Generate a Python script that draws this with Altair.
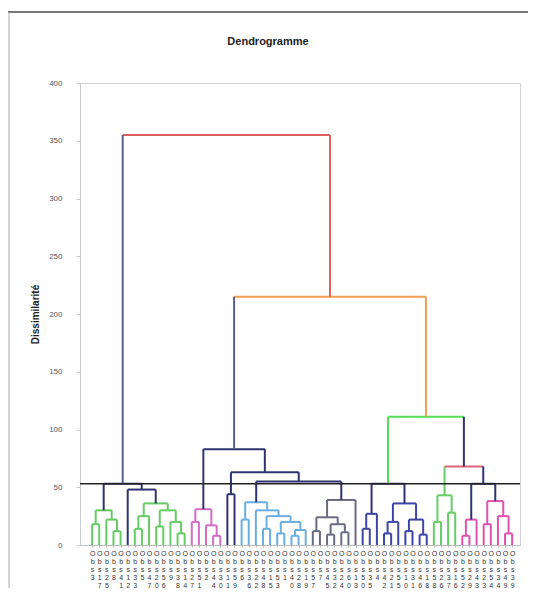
import altair as alt
import pandas as pd

# ---------------- data ----------------
chart_title = ["Dendrogramme"]

leaf_names = ["Obs3","Obs17","Obs25","Obs8","Obs41","Obs12","Obs33","Obs5","Obs47","Obs20",
              "Obs56","Obs9","Obs38","Obs14","Obs27","Obs51","Obs2","Obs44","Obs30","Obs11",
              "Obs59","Obs6","Obs36","Obs22","Obs48","Obs15","Obs53","Obs1","Obs40","Obs28",
              "Obs19","Obs57","Obs7","Obs45","Obs32","Obs24","Obs60","Obs13","Obs50","Obs35",
              "Obs4","Obs42","Obs21","Obs55","Obs10","Obs31","Obs46","Obs18","Obs58","Obs26",
              "Obs37","Obs16","Obs52","Obs29","Obs43","Obs23","Obs54","Obs34","Obs49","Obs39"]

GREEN = "#66cc66"
PINK = "#d36cc3"
NAVY = "#2f3470"
LBLUE = "#6aaee0"
GRAY = "#6b6b80"
BLUE = "#3d45a6"
MAG = "#e050ae"
ROSE = "#e0607a"
LGREEN = "#55dd55"
ORANGE = "#f2a050"
RED = "#e06060"
SLATE = "#5b5f99"

# merge table: node name, left child, right child, height, colour
# (an int child is a leaf position, a str child is an earlier merge)
node_names = ["a1","a2","a3","A1","a4","A2b1","a5","a6","a7","A2b2","A2b","A2","A",
              "p1","p2","p3","P1","DB",
              "l1","l2","l3","l4","l5","l6","l7","l8","LB",
              "g1","g2","g3","g4","g5","G","Q","P","M",
              "n1","N1a","n2","n3","n4","n5","n6","N1b","N1",
              "r1","r2","GRN","m1","Ma","m2","m3","m4","Mb","MAG","GR2","N","R","root"]
left_child = [0,3,2,"a1",6,"a4",9,12,11,"a5","A2b1",5,"A1",
              14,17,16,"p1",19,
              21,24,26,28,"l4","l3","l2",23,"l1",
              31,33,35,"g2","g1","g5","LB","DB","P1",
              38,"n1",41,"n2",44,46,"n4","n3","N1a",
              48,50,"r1",52,"m1",55,58,57,"m2","Ma","GRN","N1","M","A"]
right_child = [1,4,"a2","a3",7,8,10,13,"a6","a7","A2b2","A2b","A2",
               15,18,"p2","p3",20,
               22,25,27,29,30,"l5","l6","l7","l8",
               32,34,36,"g3","g4",37,"G","Q","P",
               39,40,42,43,45,47,"n5","n6","N1b",
               49,51,"r2",53,54,56,59,"m3","m4","Mb","MAG","GR2","N","R"]
merge_height = [18,12,22,30,14,25,16,10,20,30,36,48,53,
                20,8,17,31,44,
                22,14,10,8,13,20,25,30,37,
                12,9,11,18,24,39,55,63,83,
                14,27,10,20,12,9,22,36,53,
                20,28,43,8,22,18,10,25,38,53,68,111,215,355]
merge_color = [GREEN]*11 + [NAVY, NAVY] + \
              [PINK]*4 + [NAVY] + \
              [LBLUE]*9 + \
              [GRAY]*6 + [NAVY, NAVY, NAVY] + \
              [BLUE]*8 + [NAVY] + \
              [GREEN]*3 + [MAG]*6 + [NAVY, ROSE, LGREEN, ORANGE, RED]
# vertical link (child -> parent) colour overrides
stem_override = {"A": SLATE, "M": SLATE, "GR2": NAVY, "MAG": NAVY, "GRN": GREEN}

cut_level = [53]
y_ticks = [0, 50, 100, 150, 200, 250, 300, 350, 400]

# ---------------- build segments ----------------
pos = {}
hgt = {}
for i in range(len(leaf_names)):
    pos[i] = float(i)
    hgt[i] = 0.0

rows = []
for name, lc, rc, h, col in zip(node_names, left_child, right_child, merge_height, merge_color):
    xl, xr = pos[lc], pos[rc]
    rows.append({"x": xl, "x2": xr, "y": h, "y2": h, "color": col})
    for c in (lc, rc):
        scol = stem_override.get(c, col) if isinstance(c, str) else col
        rows.append({"x": pos[c], "x2": pos[c], "y": hgt[c], "y2": h, "color": scol})
    pos[name] = (xl + xr) / 2
    hgt[name] = h

seg = pd.DataFrame(rows)

names_js = "[" + ",".join("'" + n + "'" for n in leaf_names) + "]"

xscale = alt.Scale(domain=[-1.7, 60.1], nice=False, zero=False)
yscale = alt.Scale(domain=[0, 400], nice=False)

xaxis = alt.Axis(values=list(range(len(leaf_names))), labelExpr="split(" + names_js + "[datum.value], '')",
                 labelAngle=0, labelFontSize=7, labelLineHeight=8, labelColor="#333333",
                 labelOverlap=False, labelFlush=False, labelPadding=2, tickSize=2,
                 tickColor="#bbbbbb", domainColor="#bbbbbb", grid=False, title=None,
                 labelFont="Liberation Sans")
yaxis = alt.Axis(values=y_ticks, title="Dissimilarité", titleFontSize=10, titleFontWeight="bold",
                 titleColor="#222222", titlePadding=8, labelFontSize=8, labelColor="#555555",
                 labelPadding=14, tickSize=4, tickColor="#cccccc", domainColor="#cccccc",
                 grid=False, labelFont="Liberation Sans", titleFont="Liberation Sans")

links = alt.Chart(seg).mark_rule(strokeWidth=2).encode(
    x=alt.X("x:Q", scale=xscale, axis=xaxis),
    x2="x2:Q",
    y=alt.Y("y:Q", scale=yscale, axis=yaxis),
    y2="y2:Q",
    color=alt.Color("color:N", scale=None),
)

cut = alt.Chart(pd.DataFrame({"cut": cut_level})).mark_rule(color="#222222", strokeWidth=1.5).encode(
    y=alt.Y("cut:Q", scale=yscale)
)

frame_top = alt.Chart(pd.DataFrame({"k": [0]})).mark_rule(color="#777777", strokeWidth=2).encode(
    x=alt.value(-72), x2=alt.value(448), y=alt.value(-71)
)
frame_left = alt.Chart(pd.DataFrame({"k": [0]})).mark_rule(color="#aaaaaa", strokeWidth=1).encode(
    x=alt.value(-71), y=alt.value(-71), y2=alt.value(505)
)

title = alt.Chart(pd.DataFrame({"t": chart_title})).mark_text(
    fontSize=11, fontWeight="bold", font="Liberation Sans", color="#222222",
    align="center", baseline="middle"
).encode(text="t:N", x=alt.value(188), y=alt.value(-41))

chart = alt.layer(frame_top, frame_left, links, cut, title).properties(
    width=440, height=462,
    autosize=alt.AutoSizeParams(type="none"),
    padding={"left": 72, "top": 75, "right": 8, "bottom": 43},
).configure_view(stroke="#d0d0d0", strokeWidth=1)

chart.save("out.html", embed_options={"renderer": "svg", "actions": False})
